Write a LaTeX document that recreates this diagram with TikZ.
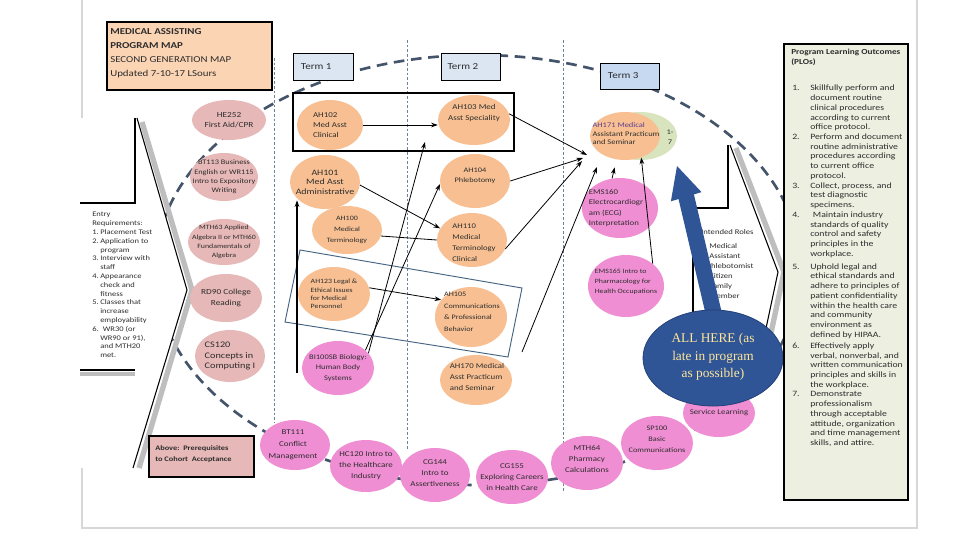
\documentclass[tikz,border=0pt]{standalone}
\usepackage{fontspec}
\setmainfont{Carlito}[FakeStretch=1.2]
\newfontfamily\bluefont{Liberation Serif}
\usetikzlibrary{shapes.geometric,arrows.meta}
\definecolor{rose}{RGB}{230,184,183}
\definecolor{peach}{RGB}{248,192,146}
\definecolor{hotpink}{RGB}{240,142,212}
\definecolor{sage}{RGB}{215,228,189}
\definecolor{titlefill}{RGB}{251,212,180}
\definecolor{termfill}{RGB}{220,230,242}
\definecolor{termfillb}{RGB}{198,217,241}
\definecolor{plofill}{RGB}{237,240,225}
\definecolor{dashc}{RGB}{68,84,106}
\definecolor{colc}{RGB}{110,130,150}
\definecolor{bigblue}{RGB}{47,85,151}
\definecolor{bigblueb}{RGB}{37,64,120}
\definecolor{paleyellow}{RGB}{255,230,153}
\definecolor{txtc}{RGB}{45,45,45}
\definecolor{shadowc}{RGB}{190,190,190}
\definecolor{pagec}{RGB}{215,215,215}
\definecolor{boxline}{RGB}{70,100,130}
\definecolor{purpc}{RGB}{90,60,140}
\newcommand\plonum[1]{\makebox[13.5pt][l]{#1}}
\newcommand\ploind{\hspace*{13.5pt}}
\newcommand\entnum[1]{\makebox[6pt][l]{#1}}
\newcommand\entind{\hspace*{6pt}}
\begin{document}
\begin{tikzpicture}[x=0.75pt,y=-0.75pt,
  el/.style 2 args={ellipse, inner sep=0pt, minimum width={#1*1.5pt}, minimum height={#2*1.5pt}},
  et/.style={align=center, inner sep=0pt, text=txtc, font=\fontsize{5.5}{8}\selectfont},
  lt/.style={et, align=left},
  arr/.style={-{Stealth[length=5pt,width=3.5pt]}, line width=0.6pt, black},
  plainline/.style={line width=0.6pt, black},
  termbox/.style={draw=black, line width=0.6pt, inner sep=0pt},
  termtxt/.style={inner sep=0pt, text=txtc, font=\fontsize{6.9}{8}\selectfont, anchor=west},
  coll/.style={colc, line width=0.5pt, dash pattern=on 2pt off 1.5pt}
]
\useasboundingbox (0,0) rectangle (960,540);
\fill[white] (0,0) rectangle (960,540);
% page edges
\draw[pagec, line width=0.8pt] (82,0) -- (82,528) -- (917,528) -- (917,0);
% big dashed ellipse
\draw[dashc, line width=2pt, dash pattern=on 8pt off 5pt] (478,270) ellipse [x radius=323, y radius=215];
% column separators
\draw[coll] (274,58) -- (274,423);
\draw[coll] (407,40) -- (407,450);
\draw[coll] (563,40) -- (563,492);
% left chevron
\fill[white] (80,118) -- (137,118) -- (187,290) -- (133,468) -- (80,468) -- cycle;
\draw[shadowc, line width=4pt] (142,122) -- (192,290) -- (139,468);
\draw[black, line width=0.8pt] (137,118) -- (187,290) -- (133,468);
\draw[black, line width=0.8pt] (135,118) -- (135,203) -- (80,203);
\draw[shadowc, line width=3pt] (80,374) -- (135,374);
\draw[black, line width=0.8pt] (80,370) -- (135,370);
\node[anchor=north west, align=left, inner sep=0pt, text=txtc, font=\fontsize{5.3}{6.6}\selectfont] (entry) at (92,212) {Entry\\Requirements:\\\entnum{1.}Placement Test\\\entnum{2.}Application to\\\entind program\\\entnum{3.}Interview with\\\entind staff\\\entnum{4.}Appearance\\\entind check and\\\entind fitness\\\entnum{5.}Classes that\\\entind increase\\\entind employability\\\entnum{6.}\hspace{2pt}WR30 (or\\\entind WR90 or 91),\\\entind and MTH20\\\entind met.};
% right chevron
\fill[white] (693,145) -- (730,145) -- (778,272) -- (755,380) -- (693,380) -- cycle;
\draw[shadowc, line width=4pt] (736,148) -- (784,272) -- (761,380);
\draw[black, line width=0.8pt] (730,145) -- (778,272) -- (755,380);
\draw[black, line width=0.8pt] (697,208) -- (728,208) -- (728,145);
\draw[black, line width=0.8pt] (693,222) -- (693,312);
\node[anchor=north west, align=left, inner sep=0pt, text=txtc, font=\fontsize{5.4}{7.5}\selectfont] (roles) at (701,229) {Intended Roles\\[3pt]\hspace*{6pt}Medical\\\hspace*{6pt}Assistant\\\hspace*{4pt}Phlebotomist\\\hspace*{6pt}Citizen\\\hspace*{6pt}Family\\\hspace*{6pt}Member};
% left column ellipses
\node[el={37}{20}, fill=rose] (he252) at (229,120) {};
\node[et, font=\fontsize{5.8}{7.9}\selectfont] at (he252) {HE252\\First Aid/CPR};
\node[el={34}{24}, fill=rose] (bt113) at (224,177) {};
\node[et, font=\fontsize{5.2}{7}\selectfont] at (bt113) {BT113 Business\\English or WR115\\Intro to Expository\\Writing};
\node[el={36}{23}, fill=rose] (mth63) at (224,242) {};
\node[et, font=\fontsize{4.9}{7}\selectfont] at (mth63) {MTH63 Applied\\Algebra II or MTH60\\Fundamentals of\\Algebra};
\node[el={36}{24}, fill=rose] (rd90) at (226,298) {};
\node[et, font=\fontsize{5.8}{8.2}\selectfont] at (rd90) {RD90 College\\Reading};
\node[el={35}{26}, fill=rose] (cs120) at (230,356) {};
\node[lt, font=\fontsize{6.4}{8.2}\selectfont] at (cs120) {CS120\\Concepts in\\Computing I};
% term 1
\node[el={33}{25}, fill=peach] (ah102) at (330,125) {};
\node[lt, font=\fontsize{5.6}{7.5}\selectfont] at (ah102) {AH102\\Med Asst\\Clinical};
\node[el={35}{27}, fill=peach] (ah101) at (325,182) {};
\node[et, font=\fontsize{6.2}{7.2}\selectfont] at (ah101) {AH101\\Med Asst\\Administrative};
\node[el={35}{24}, fill=peach] (ah100) at (347,230) {};
\node[et, font=\fontsize{5}{8.4}\selectfont] at (ah100) {AH100\\Medical\\Terminology};
\node[el={36}{27}, fill=peach] (ah123) at (334,294) {};
\node[lt, font=\fontsize{4.9}{6.3}\selectfont] at (ah123) {AH123 Legal \&\\Ethical Issues\\for Medical\\Personnel};
\node[el={36}{27}, fill=hotpink] (bi100) at (338,368) {};
\node[et, font=\fontsize{5.3}{7.8}\selectfont] at (bi100) {BI100SB Biology:\\Human Body\\Systems};
% term 2
\node[el={36}{25}, fill=peach] (ah103) at (474,120) {};
\node[et, font=\fontsize{5.6}{8}\selectfont] at (474,113) {AH103 Med\\Asst Speciality};
\node[el={35}{27}, fill=peach] (ah104) at (475,181) {};
\node[et, font=\fontsize{5.2}{7.5}\selectfont] at (475,176) {AH104\\Phlebotomy};
\node[el={35}{27}, fill=peach] (ah110) at (472,240) {};
\node[lt, font=\fontsize{5.4}{8.2}\selectfont] at (474,243) {AH110\\Medical\\Terminology\\Clinical};
\node[el={36}{30}, fill=peach] (ah105) at (471,317) {};
\node[lt, font=\fontsize{5.1}{8.6}\selectfont] at (472,312) {AH105\\Communications\\\& Professional\\Behavior};
\node[el={36}{25}, fill=peach] (ah170) at (476,380) {};
\node[lt, font=\fontsize{5.5}{8.5}\selectfont] at (477,377) {AH170 Medical\\Asst Practicum\\and Seminar};
% term 3
\node[el={37}{24}, fill=sage] (ah171g) at (640,136) {};
\node[el={35}{24}, fill=peach] (ah171) at (625,136) {};
\node[lt, font=\fontsize{5.3}{6.4}\selectfont] at (626,134) {\textcolor{purpc}{AH171 Medical}\\Assistant Practicum\\and Seminar};
\node[et, font=\fontsize{5.3}{7.5}\selectfont] at (670,137) {1-\\7};
\node[el={38}{30}, fill=hotpink] (ems160) at (620,208) {};
\node[lt, font=\fontsize{5.5}{7.9}\selectfont] at (616,208) {EMS160\\Electrocardiogr\\am (ECG)\\Interpretation};
\node[el={38}{31}, fill=hotpink] (ems165) at (626,286) {};
\node[lt, font=\fontsize{4.9}{7.3}\selectfont] at (626,282) {EMS165 Intro to\\Pharmacology for\\Health Occupations};
% bottom row
\node[el={35}{25}, fill=hotpink] (bt111) at (295,445) {};
\node[et, font=\fontsize{5.6}{9}\selectfont] at (293,445) {BT111\\Conflict\\Management};
\node[el={36}{26}, fill=hotpink] (hc120) at (366,466) {};
\node[et, font=\fontsize{5.6}{8.2}\selectfont] at (366,466) {HC120 Intro to\\the Healthcare\\Industry};
\node[el={35}{27}, fill=hotpink] (cg144) at (435,475) {};
\node[et, font=\fontsize{5.6}{8.2}\selectfont] at (435,473) {CG144\\Intro to\\Assertiveness};
\node[el={36}{27}, fill=hotpink] (cg155) at (512,477) {};
\node[et, font=\fontsize{5.6}{8.3}\selectfont] at (512,477) {CG155\\Exploring Careers\\in Health Care};
\node[el={36}{27}, fill=hotpink] (mth64) at (587,463) {};
\node[et, font=\fontsize{5.6}{8.6}\selectfont] at (587,459) {MTH64\\Pharmacy\\Calculations};
\node[el={36}{27}, fill=hotpink] (sp100) at (657,443) {};
\node[et, font=\fontsize{5.2}{8.4}\selectfont] at (657,439) {SP100\\Basic\\Communications};
\node[el={36}{24}, fill=hotpink] (svc) at (719,413) {};
\node[et, font=\fontsize{5.5}{8}\selectfont] at (719,413) {Service Learning};
% group frames
\draw[black, line width=1.6pt] (293,93) rectangle (514,151);
\draw[boxline, line width=0.7pt] (300,250) -- (522,288) -- (508,357) -- (285,322) -- cycle;
% connectors
\coordinate (b1) at (297,373);
\coordinate (p103) at (425,142);
\coordinate (q1) at (587,155);
\coordinate (q2) at (583,158);
\coordinate (q3) at (582,161);
\coordinate (q4) at (597,167);
\coordinate (s4) at (522,352);
\draw[arr] (ah102.east) -- (ah102.east -| ah103.west);
\draw[arr, line width=1pt] (b1) -- (b1 |- ah101.215);
\draw[arr] (ah101.-5) -- (ah110.160);
\draw[plainline] (ah100.-10) -- (ah110.west);
\draw[arr] (ah123.10) -- (ah105.150);
\draw[arr] (bi100.26) -- (p103);
\draw[arr] (bi100.33) -- (ah104.185);
\draw[arr] (ah103.10) -- (q1);
\draw[arr] (ah104.east) -- (q2);
\draw[arr] (ah110.-15) -- (q3);
\draw[arr] (s4) -- (q4);
\draw[arr, shorten >=6pt] (ems160.105) -- (ah171.250);
\draw[arr] (ems165.40) -- (ah171.-53);
% big blue arrow and callout
\fill[bigblue] (677,166) -- (701.5,192.1) -- (693.9,194.4) -- (727.7,337.7) -- (712.3,342.3) -- (678.5,199.0) -- (670.9,201.3) -- cycle;
\node[ellipse, inner sep=0pt, minimum width=105pt, minimum height=72pt, fill=bigblue, draw=bigblueb, line width=0.6pt] (allhere) at (713,358) {};
\node[align=center, inner sep=0pt, text=paleyellow, font=\bluefont\fontsize{10}{13}\selectfont] at (713,357) {ALL HERE (as\\late in program\\as possible)};
% PLO box
\node[draw=black, line width=1pt, fill=plofill, minimum width=93pt, minimum height=342pt, inner sep=0pt] (plo) at (846,272) {};
\node[anchor=north west, align=left, inner sep=0pt, text=txtc, font=\bfseries\fontsize{5.8}{7}\selectfont] at (791,49) {Program Learning Outcomes\\(PLOs)};
\node[anchor=north west, align=left, inner sep=0pt, text=txtc, font=\fontsize{6.1}{7.29}\selectfont] at (792,85) {\plonum{1.}Skillfully perform and\\
\ploind document routine\\
\ploind clinical procedures\\
\ploind according to current\\
\ploind office protocol.\\
\plonum{2.}Perform and document\\
\ploind routine administrative\\
\ploind procedures according\\
\ploind to current office\\
\ploind protocol.\\
\plonum{3.}Collect, process, and\\
\ploind test diagnostic\\
\ploind specimens.\\
\plonum{4.}\hspace{2pt}Maintain industry\\
\ploind standards of quality\\
\ploind control and safety\\
\ploind principles in the\\
\ploind workplace.\\[2.5pt]
\plonum{5.}Uphold legal and\\
\ploind ethical standards and\\
\ploind adhere to principles of\\
\ploind patient confidentiality\\
\ploind within the health care\\
\ploind and community\\
\ploind environment as\\
\ploind defined by HIPAA.\\[1pt]
\plonum{6.}Effectively apply\\
\ploind verbal, nonverbal, and\\
\ploind written communication\\
\ploind principles and skills in\\
\ploind the workplace.\\
\plonum{7.}Demonstrate\\
\ploind professionalism\\
\ploind through acceptable\\
\ploind attitude, organization\\
\ploind and time management\\
\ploind skills, and attire.};
% title box
\node[draw=black, line width=1pt, fill=titlefill, minimum width=123.75pt, minimum height=51pt, inner sep=0pt] (title) at (189.5,56) {};
\node[anchor=north west, align=left, inner sep=0pt, text=txtc, font=\fontsize{6.8}{10.5}\selectfont] at (110,28) {\textbf{MEDICAL ASSISTING}\\\textbf{PROGRAM MAP}\\SECOND GENERATION MAP\\Updated 7-10-17 LSours};
% term boxes
\node[termbox, fill=termfill, minimum width=45pt, minimum height=20.25pt] (term1) at (323,66.5) {};
\node[termtxt] at ([xshift=6pt]term1.west) {Term 1};
\node[termbox, fill=termfill, minimum width=44.25pt, minimum height=20.25pt] (term2) at (470.5,66.5) {};
\node[termtxt] at ([xshift=5pt]term2.west) {Term 2};
\node[termbox, fill=termfillb, minimum width=44.25pt, minimum height=19.5pt] (term3) at (629.5,76) {};
\node[termtxt] at ([xshift=6pt]term3.west) {Term 3};
% prerequisites box
\node[draw=black, line width=1pt, fill=rose, minimum width=78.75pt, minimum height=30.75pt, inner sep=0pt] (prereq) at (201.5,456.5) {};
\node[anchor=west, align=left, inner sep=0pt, text=txtc, font=\bfseries\fontsize{5.2}{8.2}\selectfont] at ([xshift=5pt,yshift=2pt]prereq.west) {Above:\ \ Prerequisites\\to Cohort\ \ Acceptance};
\end{tikzpicture}
\end{document}
